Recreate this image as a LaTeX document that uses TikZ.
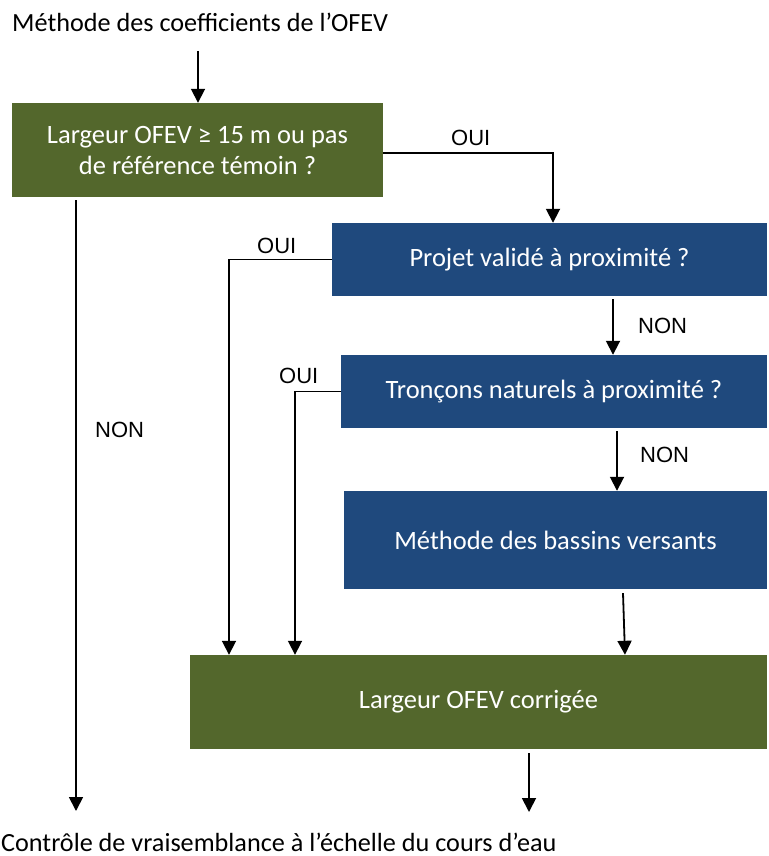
\documentclass[tikz,border=0pt]{standalone}
\usepackage{fontspec}
\setmainfont{Carlito}
\newfontfamily\lblfont{Liberation Sans}
\usetikzlibrary{arrows.meta,calc}
\definecolor{boxgreen}{RGB}{83,103,44}
\definecolor{boxblue}{RGB}{31,73,125}
\tikzset{
  basebox/.style={inner sep=0pt, text=white, align=center, font=\fontsize{26.5}{31}\selectfont},
  gbox/.style={basebox, fill=boxgreen},
  bbox/.style={basebox, fill=boxblue},
  lbl/.style={inner sep=0pt, anchor=base west, font=\lblfont\fontsize{22}{24}\selectfont},
  plaintext/.style={inner sep=0pt, anchor=base west, font=\fontsize{26.2}{30}\selectfont},
  arr/.style={line width=1.8pt, -{Triangle[width=14pt,length=14pt]}},
  conn/.style={line width=1.8pt}
}
\begin{document}
\begin{tikzpicture}[x=1pt,y=-1pt]
\useasboundingbox (0,0) rectangle (768,856);
% texts
\node[plaintext] (title) at (12,32) {Méthode des coefficients de l’OFEV};
\node[plaintext] (bottom) at (1,851) {Contrôle de vraisemblance à l’échelle du cours d’eau};
% boxes
\node[gbox, minimum width=371pt, minimum height=94pt] (b1) at (197.5,150) {Largeur OFEV ≥ 15 m ou pas\\de référence témoin ?};
\node[bbox, minimum width=435pt, minimum height=73pt] (b2) at (549.5,259.5) {Projet validé à proximité ?};
\node[bbox, minimum width=426pt, minimum height=73pt] (b3) at (554,391.5) {Tronçons naturels à proximité ?};
\node[bbox, minimum width=423pt, minimum height=98pt] (b4) at (555.5,540) {Méthode des bassins versants};
\node[gbox, minimum width=577pt, minimum height=94pt] (b5) at (478.5,702) {Largeur OFEV corrigée};
% columns
\coordinate (c0) at (76,0);
\coordinate (t1) at (198,51);
\coordinate (c2) at (553,0);
\coordinate (c3) at (229,0);
\coordinate (c4) at (295,0);
\coordinate (c5) at (613,0);
\coordinate (c6) at (617,0);
\coordinate (c7a) at (623,0);
\coordinate (c7b) at (625,0);
\coordinate (c8) at (529,0);
\coordinate (end0) at (76,811);
\coordinate (end8) at (529,812);
% connectors
\draw[arr] (t1) -- (b1.north -| t1);
\draw[arr] ([yshift=-3pt]b1.east) -| (b2.north -| c2);
\draw[arr] (b2.west) -| (b5.north -| c3);
\draw[arr] (b3.west) -| (b5.north -| c4);
\draw[arr] ([yshift=-3pt]b2.south -| c5) -- (b3.north -| c5);
\draw[arr] ([yshift=-3pt]b3.south -| c6) -- (b4.north -| c6);
\draw[arr] ([yshift=-4pt]b4.south -| c7a) -- (b5.north -| c7b);
\draw[arr] ([yshift=-4pt]b5.south -| c8) -- (end8);
\draw[arr] ([yshift=-3pt]b1.south -| c0) -- (end0);
% labels
\node[lbl] (l1) at (451,145) {OUI};
\node[lbl] (l2) at (257,253) {OUI};
\node[lbl] (l3) at (279,383) {OUI};
\node[lbl] (l4) at (95,437) {NON};
\node[lbl] (l5) at (638,333) {NON};
\node[lbl] (l6) at (640,462) {NON};
\end{tikzpicture}
\end{document}
